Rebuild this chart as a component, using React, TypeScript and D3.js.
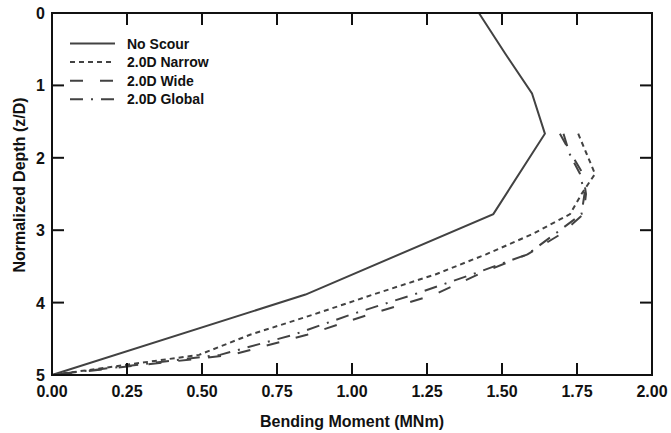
import React from "react";
import * as d3 from "d3";

const noScourDepth = [0, 0.556, 1.111, 1.667, 2.778, 3.889, 5.0];
const noScourMoment = [1.423, 1.51, 1.6, 1.643, 1.471, 0.845, 0.0];

const scourDepth = [1.667, 1.944, 2.222, 2.5, 2.778, 3.056, 3.333, 3.611, 3.889, 4.167, 4.444, 4.722, 5.0];
const narrowMoment = [1.754, 1.782, 1.81, 1.765, 1.727, 1.6, 1.447, 1.278, 1.07, 0.87, 0.66, 0.49, 0.0];
const wideMoment = [1.693, 1.73, 1.77, 1.78, 1.772, 1.695, 1.585, 1.42, 1.275, 1.055, 0.85, 0.6, 0.0];
const globalMoment = [1.705, 1.725, 1.76, 1.775, 1.765, 1.675, 1.585, 1.4, 1.205, 0.995, 0.805, 0.56, 0.0];

const seriesNames = ["No Scour", "2.0D Narrow", "2.0D Wide", "2.0D Global"];
const seriesDash = ["none", "5,4", "13,17", "13,8,2,8"];

const xTicks = [0, 0.25, 0.5, 0.75, 1.0, 1.25, 1.5, 1.75, 2.0];
const yTicks = [0, 1, 2, 3, 4, 5];

const W = 671;
const H = 433;
const left = 52;
const right = 652;
const top = 13;
const bottom = 375;
const lineColor = "#424242";
const font = "'Liberation Sans', Arial, sans-serif";

export default function App() {
  const x = d3.scaleLinear().domain([0, 2]).range([left, right]);
  const y = d3.scaleLinear().domain([0, 5]).range([top, bottom]);

  const mk = (depths: number[], moments: number[]) =>
    d3
      .line<number>()
      .x((_, i) => x(moments[i]))
      .y((d) => y(d))(depths) || "";

  const paths = [
    mk(noScourDepth, noScourMoment),
    mk(scourDepth, narrowMoment),
    mk(scourDepth, wideMoment),
    mk(scourDepth, globalMoment),
  ];

  const tickLen = 12;

  return (
    <svg
      width={W}
      height={H}
      style={{ position: "absolute", left: 0, top: 0, background: "#fff" }}
      fontFamily={font}
    >
      <rect x={0} y={0} width={W} height={H} fill="#fff" />
      {paths.map((p, i) => (
        <path
          key={i}
          d={p}
          fill="none"
          stroke={lineColor}
          strokeWidth={2}
          strokeDasharray={seriesDash[i]}
          strokeLinejoin="miter"
        />
      ))}
      {/* frame */}
      <rect x={left} y={top} width={right - left} height={bottom - top} fill="none" stroke="#111" strokeWidth={2} />
      {/* x ticks */}
      {xTicks.map((t) => (
        <g key={"x" + t}>
          <line x1={x(t)} x2={x(t)} y1={bottom} y2={bottom - tickLen} stroke="#111" strokeWidth={2} />
          <line x1={x(t)} x2={x(t)} y1={top} y2={top + tickLen} stroke="#111" strokeWidth={2} />
          <text x={x(t)} y={397} textAnchor="middle" fontSize={16} fontWeight="bold" fill="#111">
            {d3.format(".2f")(t)}
          </text>
        </g>
      ))}
      {yTicks.map((t) => (
        <g key={"y" + t}>
          <line x1={left} x2={left + tickLen} y1={y(t)} y2={y(t)} stroke="#111" strokeWidth={2} />
          <line x1={right} x2={right - tickLen} y1={y(t)} y2={y(t)} stroke="#111" strokeWidth={2} />
          <text x={45} y={y(t) + 6} textAnchor="end" fontSize={16} fontWeight="bold" fill="#111">
            {t}
          </text>
        </g>
      ))}
      <text x={(left + right) / 2} y={427} textAnchor="middle" fontSize={16} fontWeight="bold" fill="#111">
        Bending Moment (MNm)
      </text>
      <text
        transform={`translate(25,${(top + bottom) / 2 - 9}) rotate(-90)`}
        textAnchor="middle"
        fontSize={16}
        fontWeight="bold"
        fill="#111"
      >
        Normalized Depth (z/D)
      </text>
      {/* legend */}
      {seriesNames.map((n, i) => {
        const ly = 43.5 + i * 18.6;
        return (
          <g key={n}>
            <line x1={70} x2={115} y1={ly} y2={ly} stroke={lineColor} strokeWidth={2} strokeDasharray={seriesDash[i]} />
            <text x={127} y={ly + 5} fontSize={14} fontWeight="bold" fill="#111">
              {n}
            </text>
          </g>
        );
      })}
    </svg>
  );
}
